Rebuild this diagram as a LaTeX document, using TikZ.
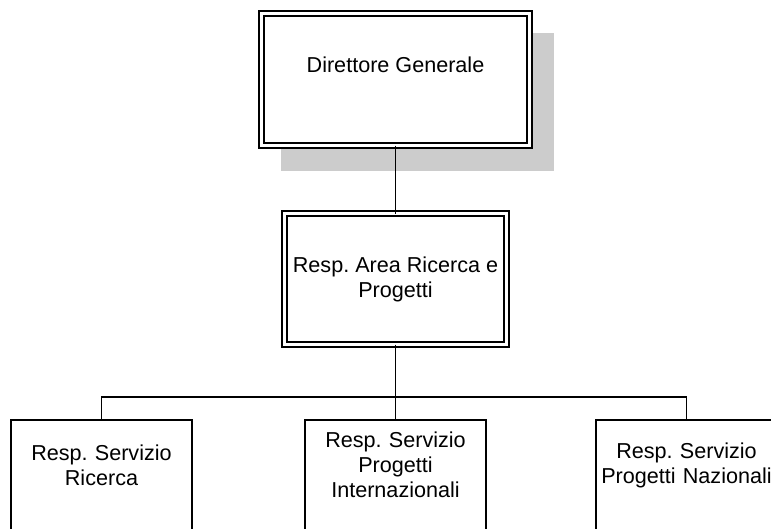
\documentclass[tikz,border=0pt]{standalone}
\usepackage{fontspec}
\setmainfont{Liberation Sans}
\usetikzlibrary{positioning,backgrounds,calc}
\newcommand{\orgfont}{\fontsize{21.6}{25}\selectfont\frenchspacing}
\tikzset{
  boss/.style={draw, fill=white, line width=1.6pt, double, double distance=3.4pt, outer sep=0pt, align=center, font=\orgfont},
  unit/.style={minimum width=181pt, minimum height=90pt, text width=177pt, inner sep=0pt, outer sep=0pt, align=center, font=\orgfont},
  frame/.style={line width=1.6pt},
  link/.style={line width=1.6pt}
}

\begin{document}
\begin{tikzpicture}[x=1pt,y=-1pt]
\useasboundingbox (0,0) rectangle (771,528);
\clip (0,0) rectangle (771,528);
	\node[boss, minimum width=268pt, minimum height=132pt] (dg) at (395.5,79.5) {Direttore Generale\\[4pt]\mbox{}};
	\node[boss, minimum width=221.5pt, minimum height=131pt, below=68pt of dg] (area) {Resp. Area Ricerca e\\Progetti};
	\node[unit, below=75.5pt of area] (int) {Resp. Servizio\\Progetti\\Internazionali};
	\node[unit, left=113pt of int] (ric) {Resp. Servizio\\Ricerca};
	\node[unit, right=110pt of int] (naz) {Resp. Servizio\\Progetti Nazionali};
\coordinate[below=52.5pt of area] (bus);
\begin{scope}[on background layer]
\fill[black!20] ($(dg.north west)+(19.5,19.5)$) rectangle ($(dg.south east)+(24.5,25.5)$);
\end{scope}
\foreach \n in {ric,int,naz}
	\draw[frame] (\n.north west) rectangle ($(\n.south east)+(0,40)$);
\draw[link] (dg) -- (area);
\draw[link] (area) -- (bus);
\draw[link] (ric.north) |- (bus) -| (naz.north);
\draw[link] (bus) -- (int);
\end{tikzpicture}
\end{document}
